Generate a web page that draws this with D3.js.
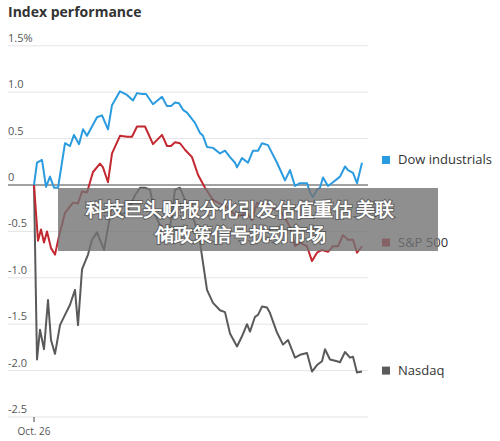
<!DOCTYPE html><html><head><meta charset="utf-8"><script src="https://cdn.jsdelivr.net/npm/d3@7"></script>
<style>body{margin:0;background:#fff}text{font-family:"Open Sans","Noto Sans",sans-serif}</style></head><body><svg id="c" width="500" height="441"></svg>
<script>
const yTicks=[1.5,1.0,0.5,0,-0.5,-1.0,-1.5,-2.0,-2.5];
const yTickLabels=["1.5%","1.0","0.5","0","-0.5","-1.0","-1.5","-2.0","-2.5"];
const dowT=[0,3,8,12,16,20,24,31,36,40,45,49,53,63,68,74,78,86,93,99,103,108,112,119,128,133,137,141,145,149,153,161,166,169,173,179,186,191,196,201,203,208,214,219,224,228,234,243,251,256,261,266,273,276,279,283,286,289,294,299,306,311,314,319,323,328];
const dowV=[0,0.24,0.27,-0.02,0.09,-0.03,-0.03,0.45,0.42,0.54,0.44,0.60,0.53,0.73,0.75,0.60,0.86,1.01,0.97,0.91,0.99,0.98,0.98,0.87,0.95,0.85,0.85,0.89,0.88,0.81,0.78,0.67,0.56,0.53,0.41,0.40,0.34,0.37,0.30,0.24,0.19,0.29,0.24,0.37,0.37,0.45,0.43,0.24,0.05,0.16,-0.01,0.02,0.02,-0.08,-0.13,-0.05,-0.03,0.08,-0.01,0.03,0.09,0.20,0.16,0.13,0.02,0.24];
const spT=[0,2,4,7,10,13,17,21,25,31,39,44,48,53,59,66,69,74,78,86,93,98,103,111,119,128,133,137,141,146,151,158,164,171,179,193,203,213,218,223,233,246,256,261,266,273,278,283,288,294,299,304,309,314,319,323,328];
const spV=[0,-0.30,-0.60,-0.48,-0.62,-0.50,-0.68,-0.75,-0.55,-0.30,-0.19,-0.20,-0.07,-0.08,0.14,0.23,0.19,0.03,0.34,0.53,0.52,0.52,0.63,0.63,0.44,0.54,0.42,0.42,0.46,0.45,0.38,0.30,0.11,-0.03,-0.16,-0.24,-0.34,-0.30,-0.38,-0.19,-0.24,-0.27,-0.45,-0.66,-0.62,-0.66,-0.82,-0.73,-0.70,-0.72,-0.66,-0.66,-0.54,-0.59,-0.59,-0.73,-0.66];
const nqT=[0,3,6,10,14,17,21,26,31,36,41,44,48,54,58,63,66,70,74,78,83,88,94,101,106,111,116,121,126,132,136,141,146,151,156,161,166,169,173,179,186,191,196,203,208,213,216,221,224,228,233,236,243,249,254,261,266,273,278,283,288,291,296,303,306,311,316,319,323,328];
const nqV=[0,-1.88,-1.56,-1.77,-1.24,-1.67,-1.82,-1.51,-1.40,-1.29,-1.13,-1.51,-0.91,-0.75,-0.59,-0.51,-0.59,-0.70,-0.46,-0.22,-0.25,-0.32,-0.27,-0.11,-0.03,-0.03,-0.05,-0.32,-0.43,-0.59,-0.46,-0.05,-0.03,-0.16,-0.27,-0.41,-0.62,-0.84,-1.13,-1.27,-1.35,-1.37,-1.60,-1.74,-1.63,-1.50,-1.58,-1.42,-1.40,-1.31,-1.32,-1.38,-1.59,-1.72,-1.67,-1.86,-1.83,-1.81,-2.01,-1.94,-1.90,-1.77,-1.88,-1.90,-1.91,-1.80,-1.86,-1.85,-2.02,-2.01];
const seriesNames=["Dow industrials","S&P 500","Nasdaq"];
const colors=["#2b9be0","#c3272f","#5a5a5a"];
const svg=d3.select("#c");
const x=d3.scaleLinear().domain([0,328]).range([34,362]);
const y=d3.scaleLinear().domain([0,-2.5]).range([185,417]);
svg.append("text").attr("x",8).attr("y",17).attr("font-size",14).attr("font-weight",700).attr("fill","#333").text("Index performance");
yTicks.forEach((t,i)=>{
 svg.append("line").attr("x1",8).attr("x2",368).attr("y1",y(t)).attr("y2",y(t)).attr("stroke",t===0?"#444":"#e4e4e4").attr("stroke-width",t===0?1.2:1);
 svg.append("text").attr("x",8).attr("y",y(t)-4).attr("font-size",11).attr("fill","#555").text(yTickLabels[i]);
});
svg.append("line").attr("x1",x(0)).attr("x2",x(0)).attr("y1",417).attr("y2",422).attr("stroke","#444");
svg.append("text").attr("x",x(0)).attr("y",435).attr("text-anchor","middle").attr("font-size",10).attr("fill","#555").text("Oct. 26");
const data=[[dowT,dowV],[spT,spV],[nqT,nqV]];
const line=d3.line().x(d=>x(d[0])).y(d=>y(d[1]));
[2,1,0].forEach(i=>{
 const pts=data[i][0].map((t,j)=>[t,data[i][1][j]]);
 svg.append("path").attr("d",line(pts)).attr("fill","none").attr("stroke",colors[i]).attr("stroke-width",2).attr("stroke-linejoin","round");
});
const legY=[0.27,-0.62,-2.0];
seriesNames.forEach((n,i)=>{
 svg.append("rect").attr("x",382).attr("y",y(legY[i])-4).attr("width",8).attr("height",8).attr("fill",colors[i]);
 svg.append("text").attr("x",398).attr("y",y(legY[i])+4.5).attr("font-size",13).attr("fill","#333").text(n);
});
svg.append("rect").attr("x",58).attr("y",188).attr("width",380).attr("height",63).attr("fill","rgba(115,115,115,0.8)");
["科技巨头财报分化引发估值重估 美联","储政策信号扰动市场"].forEach((s,i)=>{
 svg.append("text").attr("x",240).attr("y",216+i*25).attr("text-anchor","middle").attr("font-size",19).attr("font-weight",700).attr("fill","#fff").attr("font-family","Noto Sans CJK SC").style("paint-order","stroke").attr("stroke","rgba(0,0,0,0.35)").attr("stroke-width",2).text(s);
});
</script></body></html>
